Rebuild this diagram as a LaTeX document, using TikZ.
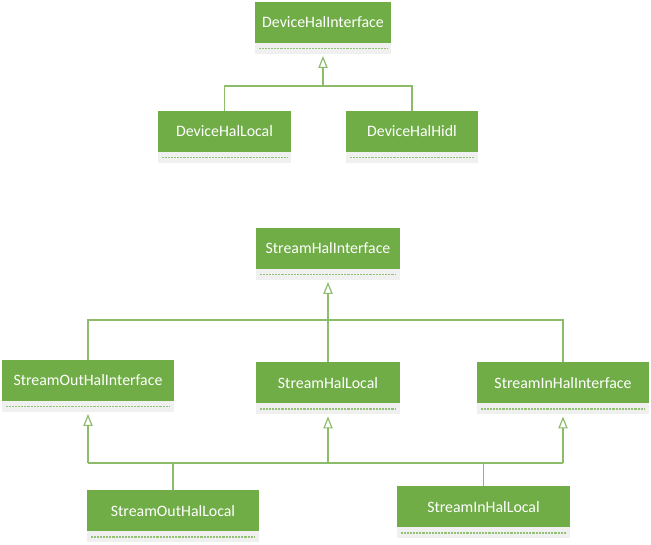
\documentclass[tikz,border=0pt]{standalone}
\usepackage{fontspec}
\setmainfont{Carlito}
\usepackage{xcolor}
\usepackage{tikz}
\usetikzlibrary{positioning, arrows.meta, calc}
\definecolor{umlgreen}{HTML}{70AD47}
\definecolor{linkgreen}{HTML}{8CBC6A}
\definecolor{stripgray}{HTML}{F0F0F0}
\tikzset{
  classbox/.style={
    rectangle,
    fill=umlgreen,
    text=white,
    minimum height=30.75pt,
    inner sep=0pt,
    outer sep=0pt,
    font=\fontsize{11.9}{14}\selectfont
  },
  classstrip/.style={
    rectangle,
    fill=stripgray,
    minimum height=8.25pt,
    inner sep=0pt,
    outer sep=0pt,
    path picture={
      \draw[umlgreen!75, line width=0.9pt, dash pattern=on 0.6pt off 0.5pt]
        ($(path picture bounding box.west)+(3pt,0)$) --
        ($(path picture bounding box.east)+(-3pt,0)$);
    }
  },
  classlink/.style={
    draw=linkgreen,
    line width=0.9pt
  },
  inherit/.style={
    -{Triangle[open, length=9pt, width=7pt]},
    shorten >=1.5pt
  }
}
\begin{document}
\begin{tikzpicture}[x=0.75pt, y=-0.75pt]
  \useasboundingbox (0,0) rectangle (651,545);
  % device hal
  \node[classbox, minimum width=102pt] (dhi) at (323,22.5) {DeviceHalInterface};
  \node[classstrip, minimum width=102pt, below=0pt of dhi] (dhi-s) {};
  \node[classbox, minimum width=99.75pt] (dhl) at (224.5,131.5) {DeviceHalLocal};
  \node[classstrip, minimum width=99.75pt, below=0pt of dhl] (dhl-s) {};
  \node[classbox, minimum width=99pt] (dhh) at (412,131.5) {DeviceHalHidl};
  \node[classstrip, minimum width=99pt, below=0pt of dhh] (dhh-s) {};
  \coordinate (dj) at (323,86);
  \draw[classlink] (dhl.north) |- (dj) -| (dhh.north);
  \draw[classlink, inherit] (dj) -- (dhi-s.south);
  % stream hal
  \node[classbox, minimum width=108pt] (shi) at (328,248.5) {StreamHalInterface};
  \node[classstrip, minimum width=108pt, below=0pt of shi] (shi-s) {};
  \node[classbox, minimum width=129pt] (soi) at (88,380.5) {StreamOutHalInterface};
  \node[classstrip, minimum width=129pt, below=0pt of soi] (soi-s) {};
  \node[classbox, minimum width=108pt] (shl) at (328,383) {StreamHalLocal};
  \node[classstrip, minimum width=108pt, below=0pt of shl] (shl-s) {};
  \node[classbox, minimum width=129pt] (sii) at (563,383) {StreamInHalInterface};
  \node[classstrip, minimum width=129pt, below=0pt of sii] (sii-s) {};
  \node[classbox, minimum width=129pt] (sol) at (173,511) {StreamOutHalLocal};
  \node[classstrip, minimum width=129pt, below=0pt of sol] (sol-s) {};
  \node[classbox, minimum width=129.75pt] (sil) at (483.5,507) {StreamInHalLocal};
  \node[classstrip, minimum width=129.75pt, below=0pt of sil] (sil-s) {};
  \coordinate (sj) at (328,320);
  \draw[classlink] (soi.north) |- (sj) -| (sii.north);
  \draw[classlink] (shl.north) -- (sj);
  \draw[classlink, inherit] (sj) -- (shi-s.south);
  \coordinate (bj) at (328,463);
  \draw[classlink] (soi-s.south |- bj) -- (sii-s.south |- bj);
  \draw[classlink] (sol.north) -- (sol.north |- bj);
  \draw[classlink] (sil.north) -- (sil.north |- bj);
  \draw[classlink, inherit] (soi-s.south |- bj) -- (soi-s.south);
  \draw[classlink, inherit] (bj) -- (shl-s.south);
  \draw[classlink, inherit] (sii-s.south |- bj) -- (sii-s.south);
\end{tikzpicture}
\end{document}
